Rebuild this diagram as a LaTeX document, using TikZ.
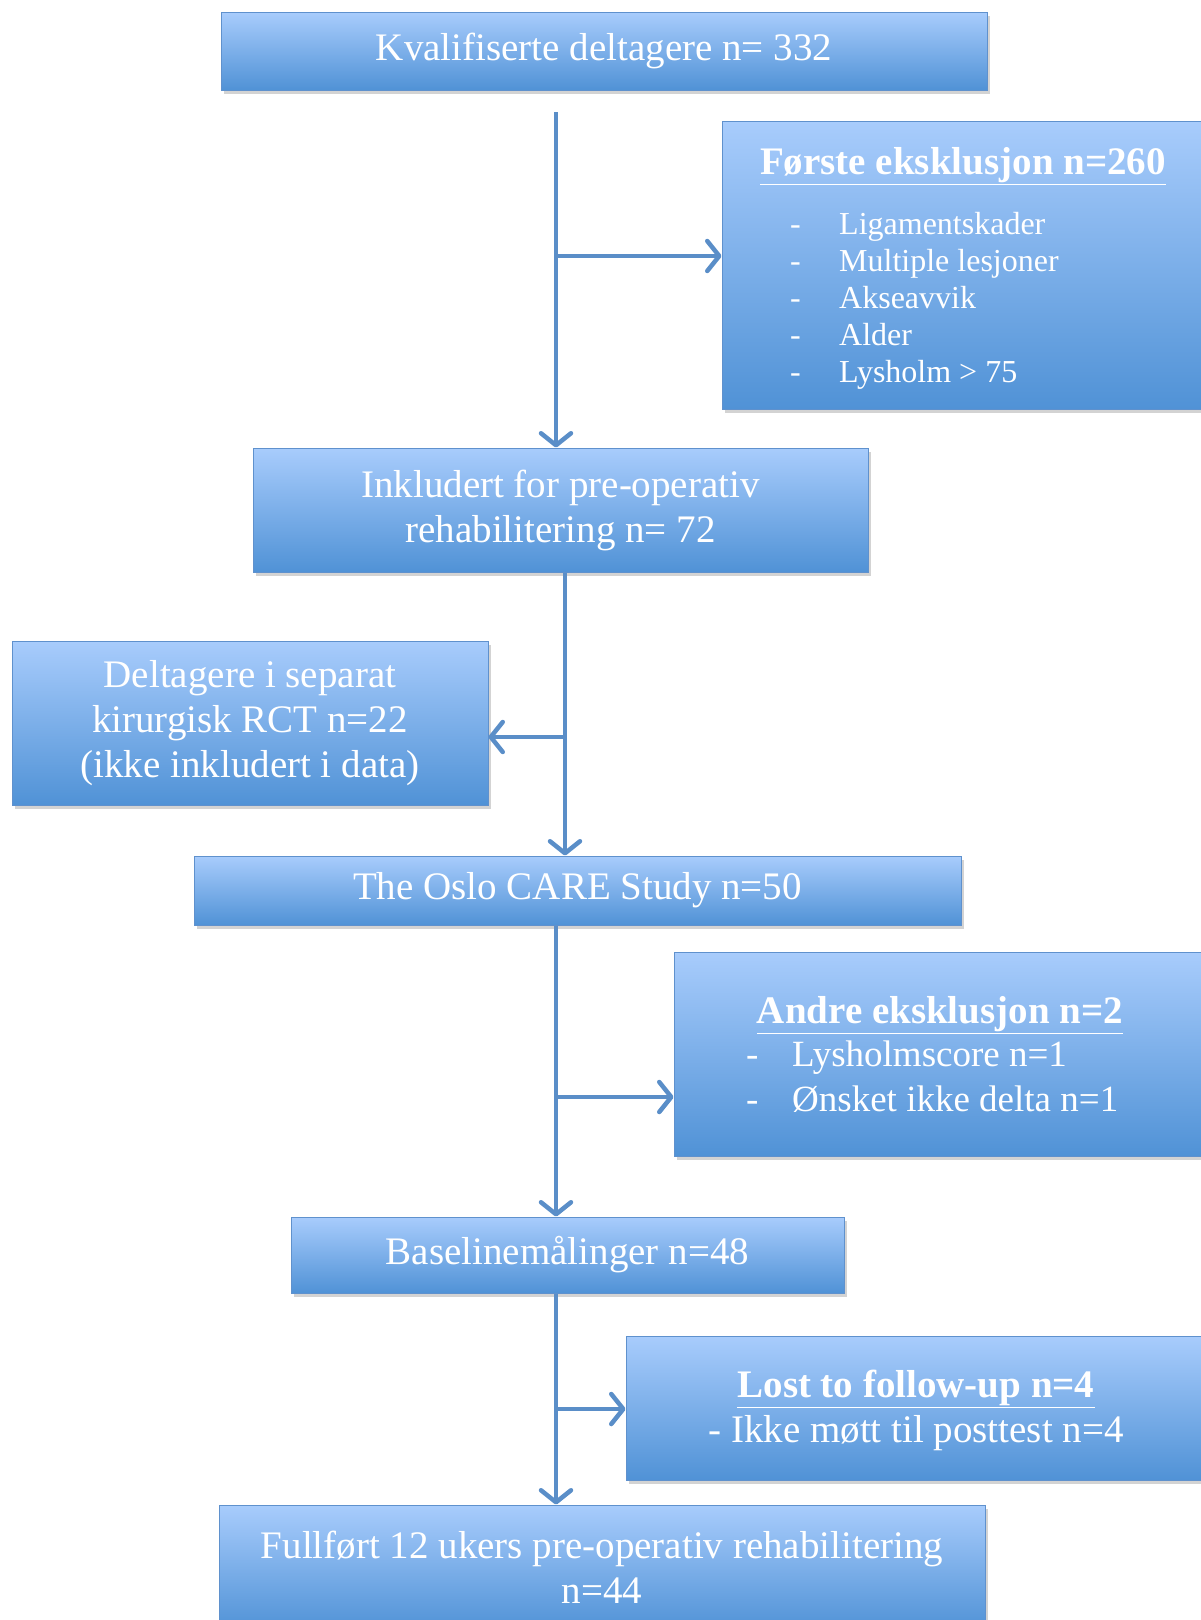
\documentclass[tikz,border=0pt]{standalone}
\usepackage{fontspec}
\setmainfont{Liberation Serif}
\usetikzlibrary{positioning,arrows.meta,shadows}
\definecolor{boxtop}{RGB}{168,204,252}
\definecolor{boxbot}{RGB}{80,146,214}
\definecolor{boxline}{RGB}{95,145,205}
\definecolor{flowcol}{RGB}{90,142,200}

\begin{document}
\begin{tikzpicture}[x=1pt, y=-1pt,
      box/.style={draw=boxline, line width=1pt, top color=boxtop, bottom color=boxbot,
                  drop shadow={shadow xshift=3pt, shadow yshift=-4pt, opacity=0.35},
                  text=white, align=center, inner sep=0pt,
                  font=\fontsize{39}{45}\selectfont},
      txt/.style={text=white, inner sep=0pt, font=\fontsize{39}{45}\selectfont},
      itm/.style={text=white, inner sep=0pt, align=left, anchor=west},
      flow/.style={draw=flowcol, line width=4.5pt,
                   -{Straight Barb[length=12pt, width=30pt, line width=4.5pt, round]}}]
    \useasboundingbox (0,0) rectangle (1201,1620);
    % boxes
    \node[box, minimum width=766pt, minimum height=78pt] (kval) at (604,51)
      {Kvalifiserte deltagere n= 332};
    \node[box, minimum width=490pt, minimum height=288pt] (forste) at (967,265) {};
    \node[box, minimum width=615pt, minimum height=124pt] (incl) at (560.5,510)
      {Inkludert for pre-operativ\\ rehabilitering n= 72};
    \node[box, minimum width=476pt, minimum height=164pt] (delt) at (250,723)
      {Deltagere i separat\\ kirurgisk RCT n=22\\ (ikke inkludert i data)};
    \node[box, minimum width=767pt, minimum height=69pt] (oslo) at (577.5,890.5)
      {The Oslo CARE Study n=50};
    \node[box, minimum width=538pt, minimum height=204pt] (andre) at (943,1054) {};
    \node[box, minimum width=553pt, minimum height=76pt] (base) at (567.5,1255)
      {Baselinemålinger n=48};
    \node[box, minimum width=586pt, minimum height=144pt] (lost) at (919,1408) {};
    \node[box, minimum width=766pt, minimum height=125pt] (full) at (602,1567.5)
      {Fullført 12 ukers pre-operativ rehabilitering\\ n=44};
    % texts in the exclusion boxes
    \node[txt] (forsteT) at (963,166) {\underline{\textbf{Første eksklusjon n=260}}};
    \node[itm, font=\fontsize{32}{37}\selectfont] (forsteL) at (790,301)
      {\makebox[49pt][l]{-}Ligamentskader\\ \makebox[49pt][l]{-}Multiple lesjoner\\
       \makebox[49pt][l]{-}Akseavvik\\ \makebox[49pt][l]{-}Alder\\
       \makebox[49pt][l]{-}Lysholm > 75};
    \node[txt] (andreT) at (940,1015) {\underline{\textbf{Andre eksklusjon n=2}}};
    \node[itm, font=\fontsize{37}{45}\selectfont] (andreL) at (746,1077)
      {\makebox[46pt][l]{-}Lysholmscore n=1\\ \makebox[46pt][l]{-}Ønsket ikke delta n=1};
    \node[txt, align=center] (lostT) at (916,1410)
      {\underline{\textbf{Lost to follow-up n=4}}\\ - Ikke møtt til posttest n=4};
    % connectors
    \coordinate (v1) at (556,112);
    \coordinate (j1) at (556,256);
    \draw[flow] (v1) -- (v1 |- incl.north);
    \draw[flow] (j1) -- (j1 -| forste.west);
    \draw[flow] ([xshift=4.5pt]incl.south) coordinate (v2) -- (v2 |- oslo.north);
    \coordinate (j2) at (565,737);
    \draw[flow] (j2) -- (j2 -| delt.east);
    \draw[flow] ([xshift=-21.5pt]oslo.south) coordinate (v3) -- (v3 |- base.north);
    \coordinate (j3) at (556,1097);
    \draw[flow] (j3) -- (j3 -| andre.west);
    \draw[flow] ([xshift=-11.5pt]base.south) coordinate (v4) -- (v4 |- full.north);
    \coordinate (j4) at (556,1409);
    \draw[flow] (j4) -- (j4 -| lost.west);
  \end{tikzpicture}
\end{document}
